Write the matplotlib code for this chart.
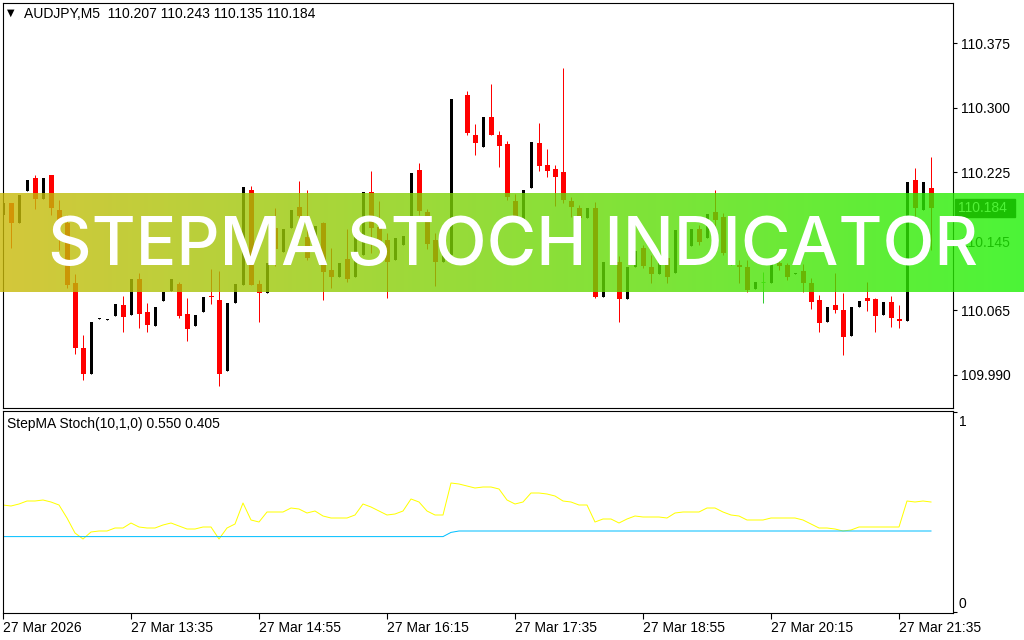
import numpy as np
import matplotlib.pyplot as plt
from matplotlib.patches import Rectangle

plt.rcParams['font.family'] = ['Liberation Sans', 'DejaVu Sans']

# AUDJPY M5 candles (27 Mar); bar 57 is not visible
opens = [110.176, 110.190, 110.166, 110.203, 110.219, 110.194, 110.222, 110.181, 110.166, 110.097,
         110.021, 109.991, 110.055, 110.054, 110.058, 110.071, 110.060, 110.101, 110.063, 110.047,
         110.076, 110.087, 110.096, 110.061, 110.047, 110.063, 110.082, 110.077, 109.995, 110.074,
         110.094, 110.205, 110.096, 110.085, 110.161, 110.133, 110.161, 110.185, 110.150, 110.133,
         110.166, 110.112, 110.104, 110.125, 110.104, 110.129, 110.202, 110.162, 110.147, 110.123,
         110.141, 110.173, 110.228, 110.179, 110.147, 110.121, 110.129, np.nan, 110.315, 110.268,
         110.254, 110.289, 110.268, 110.258, 110.192, 110.170, 110.207, 110.259, 110.234, 110.229,
         110.225, 110.192, 110.184, 110.172, 110.184, 110.080, 110.121, 110.121, 110.078, 110.115,
         110.137, 110.115, 110.107, 110.126, 110.108, 110.156, 110.140, 110.159, 110.149, 110.179,
         110.173, 110.118, 110.118, 110.115, 110.090, 110.098, 110.097, 110.120, 110.118, 110.107,
         110.111, 110.097, 110.077, 110.051, 110.071, 110.065, 110.035, 110.069, 110.079, 110.078,
         110.060, 110.075, 110.055, 110.053, 110.216, 110.181, 110.207]
highs = [110.190, 110.190, 110.199, 110.216, 110.222, 110.219, 110.222, 110.193, 110.176, 110.107,
         110.036, 110.051, 110.056, 110.055, 110.072, 110.082, 110.101, 110.108, 110.074, 110.069,
         110.086, 110.101, 110.098, 110.079, 110.060, 110.080, 110.113, 110.111, 110.074, 110.096,
         110.208, 110.209, 110.100, 110.120, 110.184, 110.159, 110.181, 110.215, 110.205, 110.163,
         110.168, 110.137, 110.120, 110.159, 110.155, 110.202, 110.227, 110.192, 110.155, 110.149,
         110.151, 110.224, 110.236, 110.183, 110.155, 110.135, 110.310, np.nan, 110.319, 110.281,
         110.289, 110.328, 110.273, 110.261, 110.200, 110.205, 110.260, 110.282, 110.252, 110.234,
         110.346, 110.196, 110.187, 110.184, 110.191, 110.121, 110.135, 110.128, 110.115, 110.134,
         110.141, 110.129, 110.120, 110.133, 110.158, 110.164, 110.159, 110.164, 110.177, 110.205,
         110.178, 110.144, 110.123, 110.123, 110.098, 110.110, 110.119, 110.123, 110.120, 110.108,
         110.119, 110.102, 110.083, 110.069, 110.108, 110.085, 110.069, 110.076, 110.098, 110.079,
         110.075, 110.082, 110.071, 110.214, 110.230, 110.214, 110.243]
lows = [110.176, 110.137, 110.166, 110.203, 110.183, 110.194, 110.176, 110.135, 110.091, 110.014,
        109.984, 109.991, 110.055, 110.054, 110.058, 110.040, 110.060, 110.044, 110.040, 110.047,
        110.076, 110.087, 110.056, 110.029, 110.047, 110.063, 110.072, 109.977, 109.995, 110.074,
        110.094, 110.094, 110.051, 110.085, 110.116, 110.133, 110.161, 110.147, 110.123, 110.133,
        110.077, 110.091, 110.104, 110.098, 110.104, 110.129, 110.132, 110.132, 110.079, 110.123,
        110.141, 110.173, 110.176, 110.136, 110.093, 110.121, 110.129, np.nan, 110.268, 110.245,
        110.254, 110.268, 110.231, 110.193, 110.170, 110.170, 110.207, 110.227, 110.220, 110.186,
        110.190, 110.173, 110.135, 110.172, 110.079, 110.080, 110.121, 110.051, 110.078, 110.115,
        110.114, 110.097, 110.107, 110.097, 110.108, 110.135, 110.140, 110.141, 110.149, 110.133,
        110.129, 110.118, 110.097, 110.086, 110.090, 110.074, 110.097, 110.112, 110.100, 110.107,
        110.086, 110.067, 110.040, 110.051, 110.062, 110.013, 110.035, 110.069, 110.064, 110.040,
        110.060, 110.046, 110.044, 110.053, 110.173, 110.181, 110.135]
closes = [110.190, 110.166, 110.199, 110.216, 110.194, 110.219, 110.184, 110.166, 110.094, 110.021,
          109.991, 110.051, 110.056, 110.055, 110.072, 110.057, 110.101, 110.061, 110.048, 110.069,
          110.086, 110.101, 110.058, 110.043, 110.060, 110.080, 110.080, 109.991, 110.074, 110.096,
          110.208, 110.094, 110.085, 110.120, 110.136, 110.159, 110.181, 110.174, 110.126, 110.163,
          110.110, 110.104, 110.120, 110.101, 110.155, 110.202, 110.161, 110.143, 110.121, 110.149,
          110.151, 110.224, 110.180, 110.142, 110.121, 110.135, 110.310, np.nan, 110.271, 110.259,
          110.289, 110.268, 110.256, 110.196, 110.173, 110.205, 110.260, 110.232, 110.227, 110.220,
          110.193, 110.185, 110.172, 110.184, 110.080, 110.121, 110.135, 110.078, 110.115, 110.134,
          110.116, 110.107, 110.120, 110.104, 110.158, 110.141, 110.159, 110.144, 110.177, 110.170,
          110.132, 110.144, 110.115, 110.089, 110.098, 110.098, 110.119, 110.116, 110.104, 110.108,
          110.097, 110.075, 110.050, 110.069, 110.065, 110.034, 110.069, 110.076, 110.076, 110.058,
          110.075, 110.056, 110.053, 110.214, 110.184, 110.214, 110.184]

# StepMA Stoch(10,1,0): main (yellow) and signal (blue)
stoch_main = [0.535, 0.530, 0.540, 0.555, 0.555, 0.560, 0.550, 0.535, 0.470, 0.395,
              0.365, 0.400, 0.405, 0.405, 0.420, 0.420, 0.445, 0.425, 0.420, 0.420,
              0.435, 0.445, 0.430, 0.415, 0.415, 0.425, 0.425, 0.365, 0.420, 0.440,
              0.545, 0.460, 0.450, 0.500, 0.500, 0.500, 0.520, 0.515, 0.495, 0.505,
              0.480, 0.470, 0.470, 0.470, 0.485, 0.540, 0.525, 0.505, 0.485, 0.490,
              0.505, 0.565, 0.550, 0.505, 0.485, 0.485, 0.645, 0.640, 0.630, 0.620,
              0.625, 0.625, 0.615, 0.560, 0.540, 0.550, 0.595, 0.595, 0.590, 0.580,
              0.555, 0.550, 0.535, 0.535, 0.450, 0.465, 0.465, 0.445, 0.465, 0.480,
              0.475, 0.475, 0.475, 0.470, 0.495, 0.500, 0.500, 0.500, 0.520, 0.520,
              0.500, 0.485, 0.480, 0.460, 0.460, 0.460, 0.470, 0.470, 0.470, 0.470,
              0.460, 0.440, 0.420, 0.420, 0.415, 0.405, 0.410, 0.425, 0.425, 0.425,
              0.425, 0.425, 0.425, 0.555, 0.550, 0.555, 0.550]
stoch_signal = [0.377, 0.377, 0.377, 0.377, 0.377, 0.377, 0.377, 0.377, 0.377, 0.377,
                0.377, 0.377, 0.377, 0.377, 0.377, 0.377, 0.377, 0.377, 0.377, 0.377,
                0.377, 0.377, 0.377, 0.377, 0.377, 0.377, 0.377, 0.377, 0.377, 0.377,
                0.377, 0.377, 0.377, 0.377, 0.377, 0.377, 0.377, 0.377, 0.377, 0.377,
                0.377, 0.377, 0.377, 0.377, 0.377, 0.377, 0.377, 0.377, 0.377, 0.377,
                0.377, 0.377, 0.377, 0.377, 0.377, 0.377, 0.398, 0.405, 0.405, 0.405,
                0.405, 0.405, 0.405, 0.405, 0.405, 0.405, 0.405, 0.405, 0.405, 0.405,
                0.405, 0.405, 0.405, 0.405, 0.405, 0.405, 0.405, 0.405, 0.405, 0.405,
                0.405, 0.405, 0.405, 0.405, 0.405, 0.405, 0.405, 0.405, 0.405, 0.405,
                0.405, 0.405, 0.405, 0.405, 0.405, 0.405, 0.405, 0.405, 0.405, 0.405,
                0.405, 0.405, 0.405, 0.405, 0.405, 0.405, 0.405, 0.405, 0.405, 0.405,
                0.405, 0.405, 0.405, 0.405, 0.405, 0.405, 0.405]

price_ticks = [109.990, 110.065, 110.145, 110.225, 110.300, 110.375]
time_labels = ['27 Mar 2026', '27 Mar 13:35', '27 Mar 14:55', '27 Mar 16:15',
               '27 Mar 17:35', '27 Mar 18:55', '27 Mar 20:15', '27 Mar 21:35']
header = 'AUDJPY,M5  110.207 110.243 110.135 110.184'
ind_label = 'StepMA Stoch(10,1,0) 0.550 0.405'
last_price = '110.184'
banner_text = 'STEPMA STOCH INDICATOR'

W, H = 1024, 640


def box(x0, y0, x1, y1):
    # pixel box (top-left origin) -> figure fraction rect
    return [x0 / W, 1 - y1 / H, (x1 - x0) / W, (y1 - y0) / H]


o, h, l, c = (np.array(v, dtype=float) for v in (opens, highs, lows, closes))
x = np.arange(len(o))
up = c > o
dn = c < o
flat = c == o
onepx = 0.00116  # one pixel in price units
lw = 0.72

fig = plt.figure(figsize=(10.24, 6.4), dpi=100)
ax = fig.add_axes(box(3, 3, 953, 408))
ax2 = fig.add_axes(box(3, 411, 953, 613))

# candles
ax.vlines(x[dn], l[dn], h[dn], color='red', lw=lw)
ax.bar(x[dn], np.maximum(o[dn] - c[dn], onepx), bottom=c[dn], width=5 / 8, color='red', lw=0)
ax.vlines(x[up], l[up], h[up], color='black', lw=lw)
ax.bar(x[up], np.maximum(c[up] - o[up], onepx), bottom=o[up], width=3 / 8, color='black', lw=0)
ax.vlines(x[flat], l[flat], h[flat], color='#33cc33', lw=lw)
ax.hlines(o[flat], x[flat] - 0.3, x[flat] + 0.3, color='#33cc33', lw=lw)

ax.set_xlim(0, 118.75)
ax.set_ylim(109.9517, 110.4215)
ax.yaxis.tick_right()
ax.set_yticks(price_ticks)
ax.set_yticklabels([f'{p:.3f}' for p in price_ticks])
ax.tick_params(axis='y', direction='out', length=3, width=0.8, pad=3, labelsize=10)
ax.set_xticks([])

# indicator window
ax2.plot(x, stoch_main, color='#ffff00', lw=lw)
ax2.plot(x, stoch_signal, color='#00bfff', lw=lw)
ax2.set_xlim(0, 118.75)
ax2.set_ylim(-0.005, 1.005)
ax2.yaxis.tick_right()
ax2.set_yticks([0, 1])
ax2.set_yticklabels(['', ''])
ax2.tick_params(axis='y', direction='out', length=3, width=0.8)
ytr = ax2.get_yaxis_transform()
ax2.text(1.006, 0.95, '1', transform=ytr, va='center', fontsize=10)
ax2.text(1.006, 0.04, '0', transform=ytr, va='center', fontsize=10)
ax2.set_xticks(x[::16])
ax2.set_xticklabels(time_labels, ha='left')
ax2.tick_params(axis='x', direction='out', length=4, width=0.8, pad=2, labelsize=10)

for a in (ax, ax2):
    for s in a.spines.values():
        s.set_linewidth(0.8)

fig.text(7 / W, 1 - 13 / H, '\u25bc', fontsize=7, va='center', family='DejaVu Sans')
fig.text(24 / W, 1 - 14 / H, header, fontsize=10, va='center')
fig.text(7 / W, 1 - 424 / H, ind_label, fontsize=10, va='center')

# current price label
fig.patches.append(Rectangle((955 / W, 1 - 217 / H), 60 / W, 18 / H,
                             transform=fig.transFigure, color='black', zorder=1))
fig.text(958 / W, 1 - 208 / H, last_price, color='white', fontsize=10, va='center', zorder=2)

# banner over everything
bax = fig.add_axes(box(0, 193, 1024, 292), zorder=5)
bax.set_axis_off()
t = np.linspace(0, 1, 256)[:, None]
left = np.array([202, 186, 9]) / 255
right = np.array([31, 242, 5]) / 255
grad = left * (1 - t) + right * t
bax.imshow(grad[None, :, :], aspect='auto', extent=(0, 1, 0, 1), alpha=0.8)
bax.set_xlim(0, 1)
bax.set_ylim(0, 1)
txt = bax.text(513 / W, (292 - 265) / 99, banner_text, color='white', ha='center',
               va='baseline', fontsize=50, family='Inter', weight='medium')
r = fig.canvas.get_renderer()
wpx = txt.get_window_extent(r).width
txt.set_fontsize(50 * 930 / wpx)

fig.savefig('out.png', dpi=100)
